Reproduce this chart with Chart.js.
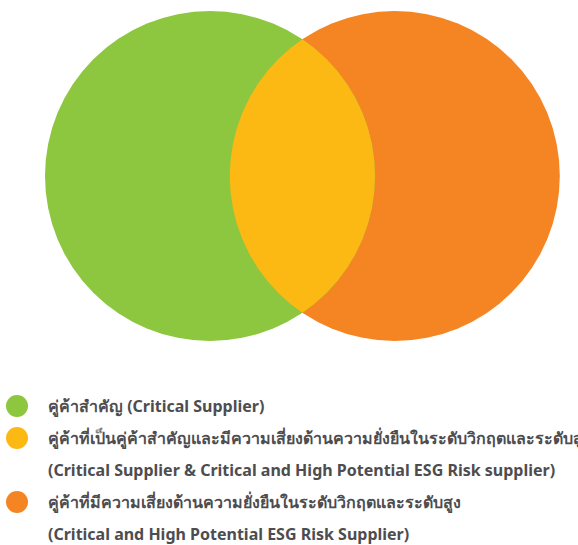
<!DOCTYPE html>
<html>
<head>
<meta charset="utf-8">
<script src="https://cdn.jsdelivr.net/npm/chart.js@4/dist/chart.umd.min.js"></script>
<style>
  html, body { margin: 0; padding: 0; background: #ffffff; }
  body { width: 578px; height: 545px; position: relative; overflow: hidden; }
  #wrap { position: absolute; left: 0; top: 0; width: 578px; height: 355px; }
  #legend { position: absolute; left: 0; top: 390px; width: 578px; }
  .line { position: absolute; left: 48px; height: 32px; line-height: 32px; white-space: nowrap;
          font-family: "Noto Sans", "Open Sans", "DejaVu Sans", sans-serif; font-weight: bold;
          font-size: 16px; color: #4d4d4f; }
  .dot { position: absolute; left: 6px; width: 22px; height: 22px; border-radius: 50%; }
</style>
</head>
<body>
<div id="wrap"><canvas id="c" width="578" height="355"></canvas></div>
<div id="legend"></div>
<script>
// ---- data ----
const setNames = ["คู่ค้าสำคัญ (Critical Supplier)", "คู่ค้าที่มีความเสี่ยงด้านความยั่งยืนในระดับวิกฤตและระดับสูง (Critical and High Potential ESG Risk Supplier)"];
const circleX = [0, 1.12];      // circle centres (venn units)
const circleY = [0, 0];
const circleR = [1, 1];         // circle radii (venn units)
const colors = ["#8dc63f", "#fdb913", "#f58423"]; // set A, overlap, set B
const legendLines = [
  ["คู่ค้าสำคัญ (Critical Supplier)"],
  ["คู่ค้าที่เป็นคู่ค้าสำคัญและมีความเสี่ยงด้านความยั่งยืนในระดับวิกฤตและระดับสูง", "(Critical Supplier & Critical and High Potential ESG Risk supplier)"],
  ["คู่ค้าที่มีความเสี่ยงด้านความยั่งยืนในระดับวิกฤตและระดับสูง", "(Critical and High Potential ESG Risk Supplier)"]
];
const legendColors = [colors[0], colors[1], colors[2]];

// ---- chart ----
const radiusPx = ctx => {
  const s = ctx.chart.scales.x;
  if (!s) return 0;
  const v = circleR[ctx.datasetIndex] * Math.abs(s.getPixelForValue(1) - s.getPixelForValue(0));
  return Number.isFinite(v) ? v : 0;
};

const overlapPlugin = {
  id: 'overlap',
  afterDatasetsDraw(chart) {
    const a = chart.getDatasetMeta(0).data[0];
    const b = chart.getDatasetMeta(1).data[0];
    if (!a || !b) return;
    const c = chart.ctx;
    c.save();
    c.beginPath();
    c.arc(a.x, a.y, a.options.radius, 0, Math.PI * 2);
    c.clip();
    c.beginPath();
    c.arc(b.x, b.y, b.options.radius, 0, Math.PI * 2);
    c.fillStyle = colors[1];
    c.fill();
    c.restore();
  }
};

const chart = new Chart(document.getElementById('c'), {
  type: 'scatter',
  data: {
    datasets: setNames.map((name, i) => ({
      label: name,
      data: [{ x: circleX[i], y: circleY[i] }],
      backgroundColor: i === 0 ? colors[0] : colors[2],
      pointBackgroundColor: i === 0 ? colors[0] : colors[2],
      pointBorderWidth: 0,
      borderWidth: 0,
      pointRadius: radiusPx,
      pointHoverRadius: radiusPx,
      showLine: false,
      clip: false
    }))
  },
  options: {
    responsive: false,
    animation: false,
    events: [],
    layout: { padding: 0 },
    scales: {
      x: { type: 'linear', display: false, min: -1.2727, max: 2.2303 },
      y: { type: 'linear', display: false, min: -1.0848, max: 1.0667 }
    },
    plugins: { legend: { display: false }, tooltip: { enabled: false } }
  },
  plugins: [overlapPlugin]
});
// circles are allowed to fill the whole canvas: no extra layout padding for point overflow
chart.data.datasets.forEach((d, i) => { chart.getDatasetMeta(i).controller.getMaxOverflow = () => 0; });
chart.update('none');

// ---- legend ----
const legend = document.getElementById('legend');
let row = 0;
legendLines.forEach((lines, i) => {
  const dot = document.createElement('div');
  dot.className = 'dot';
  dot.style.background = legendColors[i];
  dot.style.top = (row * 32 + 5) + 'px';
  legend.appendChild(dot);
  lines.forEach(t => {
    const d = document.createElement('div');
    d.className = 'line';
    d.style.top = (row * 32) + 'px';
    d.textContent = t;
    legend.appendChild(d);
    row++;
  });
});
</script>
</body>
</html>
